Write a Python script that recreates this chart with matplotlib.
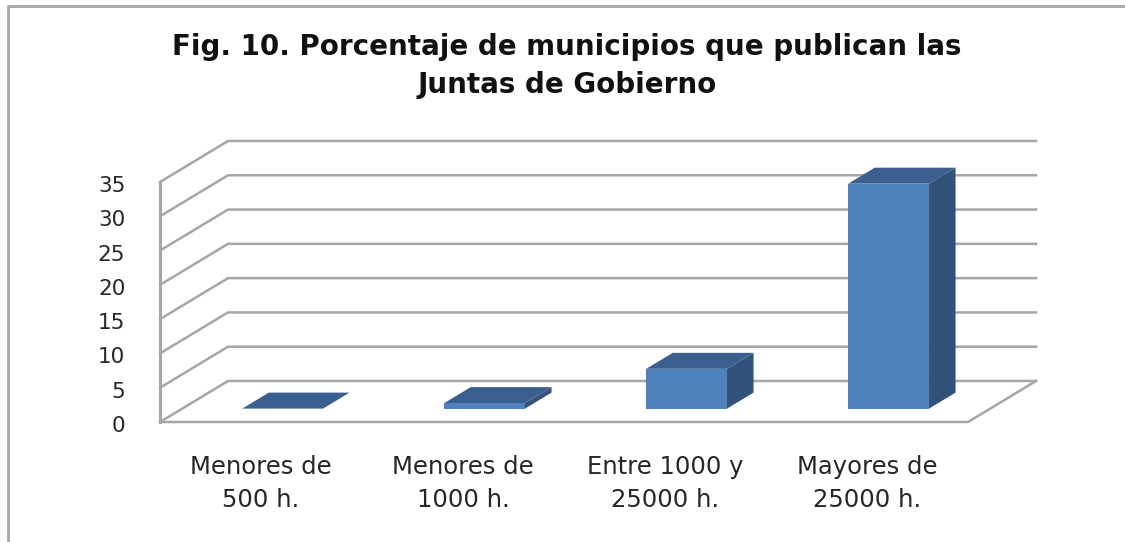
import matplotlib
matplotlib.use("Agg")
import matplotlib.pyplot as plt
from matplotlib.patches import Polygon
from matplotlib.transforms import ScaledTranslation

W, H = 1125, 542
title_lines = ["Fig. 10. Porcentaje de municipios que publican las", "Juntas de Gobierno"]
categories = ["Menores de\n500 h.", "Menores de\n1000 h.", "Entre 1000 y\n25000 h.", "Mayores de\n25000 h."]
values = [0, 0.8, 5.8, 32.8]
yticks = [0, 5, 10, 15, 20, 25, 30, 35]

fig = plt.figure(figsize=(W / 100, H / 100), dpi=100, facecolor="white")
L, R, B, T = 160, 968, 422, 182
ax = fig.add_axes([L / W, 1 - B / H, (R - L) / W, (B - T) / H])
ax.set_xlim(-0.5, 3.5)
ax.set_ylim(0, 35)
ax.patch.set_visible(False)
for s in ax.spines.values():
    s.set_visible(False)

DX = 68 / ((R - L) / 4)      # depth shift in category units
DY = 41 / ((B - T) / 35)     # depth shift in value units


def proj(x, v, d):
    return (x + d * DX, v + d * DY)


GRID = "#a6a6a6"
lw = 1.8
for v in yticks:
    pts = [proj(-0.5, v, 0), proj(-0.5, v, 1), proj(3.5, v, 1)]
    ax.plot(*zip(*pts), color=GRID, lw=lw, clip_on=False, zorder=1, solid_joinstyle="miter")
ax.plot(*zip(proj(-0.5, 0, 0), proj(-0.5, 35, 0)), color=GRID, lw=lw + 0.4, clip_on=False, zorder=1)
ax.plot(*zip(proj(-0.5, 0, 0), proj(3.5, 0, 0), proj(3.5, 0, 1)), color=GRID, lw=lw, clip_on=False, zorder=1)

FACE, TOP, SIDE = "#4f81bd", "#3a5f8f", "#325279"
bw, d0, d1 = 0.4, 0.327, 0.717
for i, v in enumerate(values):
    c = i - 0.003
    x0, x1 = c - bw / 2, c + bw / 2
    ax.add_patch(Polygon([proj(x1, 0, d0), proj(x1, 0, d1), proj(x1, v, d1), proj(x1, v, d0)],
                         fc=SIDE, ec="none", clip_on=False, zorder=3))
    ax.add_patch(Polygon([proj(x0, v, d0), proj(x1, v, d0), proj(x1, v, d1), proj(x0, v, d1)],
                         fc=TOP, ec="none", clip_on=False, zorder=3))
    ax.add_patch(Polygon([proj(x0, 0, d0), proj(x1, 0, d0), proj(x1, v, d0), proj(x0, v, d0)],
                         fc=FACE, ec="none", clip_on=False, zorder=4))

ax.set_yticks(yticks)
ax.set_xticks(range(len(categories)), categories)
ax.tick_params(axis="both", length=0, labelcolor="#262626")
ax.tick_params(axis="y", pad=25, labelsize=15.5)
ax.tick_params(axis="x", pad=24, labelsize=17.5)
for t in ax.get_xticklabels():
    t.set_fontfamily("DejaVu Sans")
    t.set_linespacing(1.45)
down = ScaledTranslation(0, -2 / 100, fig.dpi_scale_trans)
for t in ax.get_yticklabels():
    t.set_fontfamily("DejaVu Sans")
    t.set_transform(t.get_transform() + down)

for line, yc in zip(title_lines, [47, 85]):
    fig.text(567 / W, 1 - yc / H, line, ha="center", va="center", fontsize=20, fontweight="bold",
             family="DejaVu Sans", color="#111111")

# chart frame
fig.add_artist(plt.Line2D([8 / W, 8 / W, 1], [0, 1 - 5.5 / H, 1 - 5.5 / H], color="#a6a6a6", lw=2.0))

fig.savefig("out.png", dpi=100, facecolor="white")
